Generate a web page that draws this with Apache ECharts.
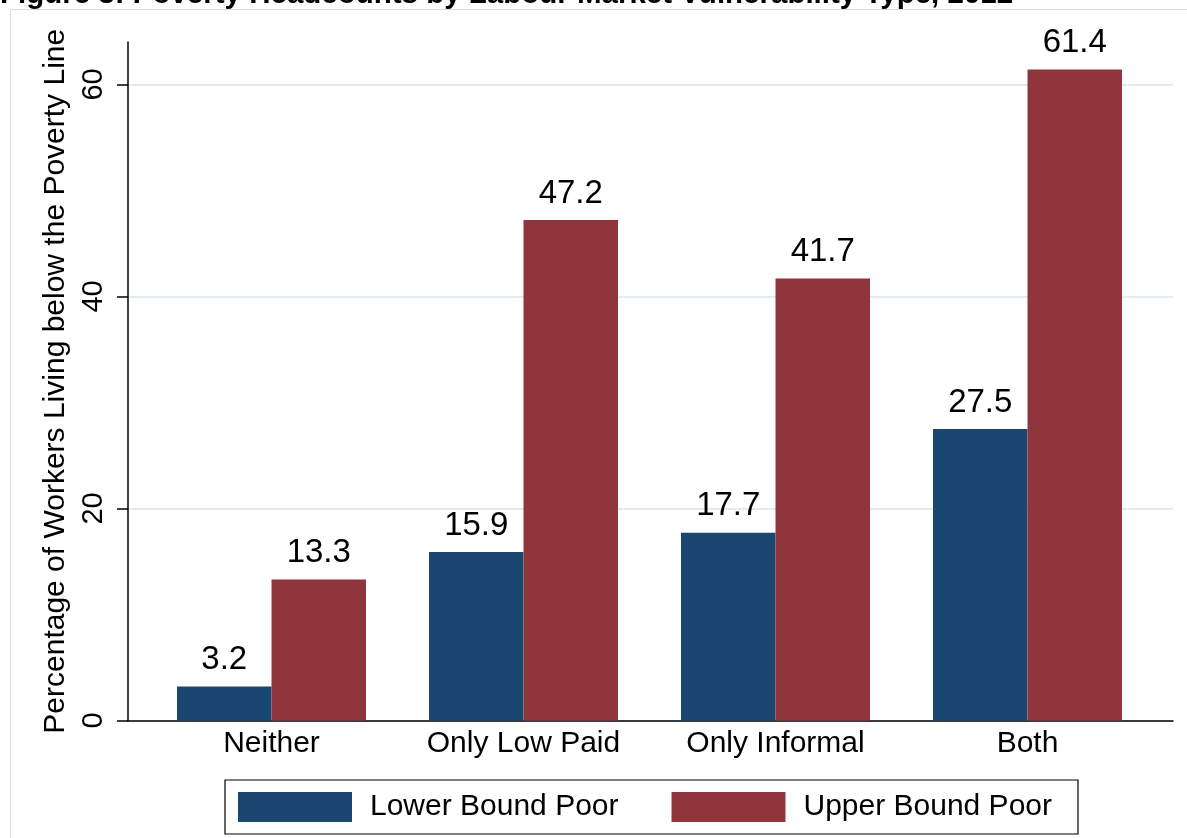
<!DOCTYPE html>
<html>
<head>
<meta charset="utf-8">
<script src="https://cdn.jsdelivr.net/npm/echarts@6/dist/echarts.min.js"></script>
<style>
  html, body { margin: 0; padding: 0; background: #fff; }
  #chart { width: 1187px; height: 838px; }
</style>
</head>
<body>
<div id="chart"></div>
<script>
// vulnerability type categories
const categories = ["Neither", "Only Low Paid", "Only Informal", "Both"];
const lowerBound = [3.2, 15.9, 17.7, 27.5];
const upperBound = [13.3, 47.2, 41.7, 61.4];
const yTicks = [0, 20, 40, 60];

const FONT = "'Liberation Sans', Arial, sans-serif";

const chart = echarts.init(document.getElementById("chart"));

chart.setOption({
  animation: false,
  backgroundColor: "#fff",
  textStyle: { fontFamily: FONT, color: "#000" },
  title: {
    text: "Figure 3: Poverty Headcounts by Labour Market Vulnerability Type, 2012",
    left: 0,
    top: -20,
    padding: 0,
    textStyle: { fontFamily: FONT, fontSize: 29.5, fontWeight: "bold", color: "#000" },
  },
  graphic: [
    {
      type: "rect",
      shape: { x: 10.5, y: 9.5, width: 1300, height: 900 },
      style: { fill: "none", stroke: "#dcdcdc", lineWidth: 1 },
      silent: true,
      z: -1,
    },
  ],
  legend: {
    data: ["Lower Bound Poor", "Upper Bound Poor"],
    left: 225,
    top: 780,
    orient: "horizontal",
    icon: "rect",
    itemWidth: 114,
    itemHeight: 30,
    itemGap: 53,
    padding: [12, 26, 12, 13],
    borderColor: "#000",
    borderWidth: 1.2,
    textStyle: { fontFamily: FONT, fontSize: 30, color: "#000", padding: [0, 0, 0, 13] },
  },
  grid: [
    // axis frame (spans the full axis line)
    { left: 128, right: 14, top: 42, bottom: 117.5 },
    // bars
    { left: 145.5, right: 33.5, top: 42, bottom: 117.5 },
  ],
  xAxis: [
    {
      type: "category",
      gridIndex: 0,
      data: [""],
      axisLine: { lineStyle: { color: "#000", width: 1.5 } },
      axisTick: { show: false },
      axisLabel: { show: false },
    },
    {
      type: "category",
      gridIndex: 1,
      data: categories,
      axisLine: { show: false },
      axisTick: { show: false },
      axisLabel: { fontFamily: FONT, fontSize: 30, color: "#000", margin: 8 },
    },
  ],
  yAxis: [
    {
      type: "value",
      gridIndex: 0,
      min: 0,
      max: 64,
      interval: 20,
      name: "Percentage of Workers Living below the Poverty Line",
      nameLocation: "middle",
      nameGap: 56,
      nameTextStyle: { fontFamily: FONT, fontSize: 30, color: "#000" },
      axisLine: { show: true, lineStyle: { color: "#000", width: 1.5 } },
      axisTick: { show: true, length: 11, customValues: yTicks, lineStyle: { color: "#000", width: 1.5 } },
      axisLabel: { customValues: yTicks, rotate: 90, fontFamily: FONT, fontSize: 29, color: "#000", margin: 20 },
      splitLine: { show: true, lineStyle: { color: "#e4ebef", width: 2 } },
    },
    {
      type: "value",
      gridIndex: 1,
      min: 0,
      max: 64,
      show: false,
      splitLine: { show: false },
    },
  ],
  series: [
    {
      name: "Lower Bound Poor",
      type: "bar",
      xAxisIndex: 1,
      yAxisIndex: 1,
      data: lowerBound,
      barGap: 0,
      barCategoryGap: "25%",
      itemStyle: { color: "#1a476f" },
      label: { show: true, position: "top", distance: 10, fontFamily: FONT, fontSize: 33, color: "#000" },
    },
    {
      name: "Upper Bound Poor",
      type: "bar",
      xAxisIndex: 1,
      yAxisIndex: 1,
      data: upperBound,
      barGap: 0,
      barCategoryGap: "25%",
      itemStyle: { color: "#90353b" },
      label: { show: true, position: "top", distance: 10, fontFamily: FONT, fontSize: 33, color: "#000" },
    },
  ],
});
</script>
</body>
</html>
